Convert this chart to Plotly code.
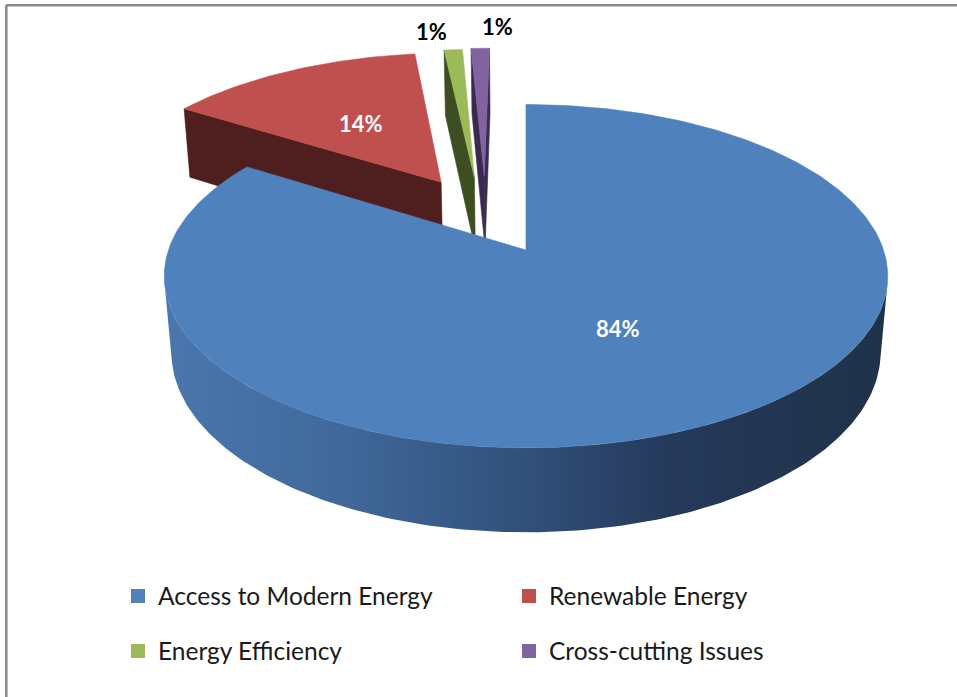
import numpy as np
import plotly.graph_objects as go

# ---------------- data ----------------
categories = ["Access to Modern Energy", "Renewable Energy", "Energy Efficiency", "Cross-cutting Issues"]
values = [84, 14, 1, 1]
labels = ["84%", "14%", "1%", "1%"]

# ---------------- style ----------------
top_colors = ["#4f81bd", "#c0504d", "#9bbb59", "#8064a2"]
wall_colors = ["#1f3249", "#4f1e1e", "#3d4e22", "#3a2b4d"]
label_colors = ["white", "white", "black", "black"]
explode = [0.0, 0.5, 0.49, 0.49]
explode_turn_deg = [0, 2, -13, -13]
label_inside = [True, True, False, False]
label_shift = [(0, 0), (0, 0), (-22, 18), (17, 22)]
blue_wall_scale = [[0, "#4a77ae"], [0.25, "#40689a"], [0.5, "#31507a"], [0.7, "#25395a"], [1, "#1f3249"]]

W, H_FIG = 957, 697
CX, CY = 526, 250          # screen position of pie centre
F, L = 2070.0, 5.79         # focal length / camera distance
SIN, COS = 0.469, 0.883     # camera elevation
DEPTH = 0.2445              # pie thickness
CAM = np.array([0.0, -L * COS, L * SIN])
FONT = "Lato, 'Open Sans', sans-serif"


def proj(x, y, z):
    x = np.asarray(x, float); y = np.asarray(y, float); z = np.asarray(z, float)
    d = y * COS + L - z * SIN
    return CX + F * x / d, CY - F * (y * SIN + z * COS) / d


fig = go.Figure()


def add_poly(xs, ys, color, gradient=None):
    kw = dict(x=list(xs) + [xs[0]], y=list(ys) + [ys[0]], mode="lines", fill="toself",
              hoverinfo="skip", showlegend=False)
    if gradient is not None:
        kw["fillgradient"] = dict(type="horizontal", colorscale=gradient)
        kw["line"] = dict(width=0, color=color)
        kw["fillcolor"] = color
    else:
        kw["fillcolor"] = color
        kw["line"] = dict(width=0.6, color=color)
    fig.add_trace(go.Scatter(**kw))


total = float(sum(values))
cum = np.concatenate([[0], np.cumsum(values)]) / total * 2 * np.pi
slices = []
for i in range(len(values)):
    t1, t2 = cum[i], cum[i + 1]
    mid = (t1 + t2) / 2
    ed = mid + np.radians(explode_turn_deg[i])
    ex, ey = explode[i] * np.sin(ed), explode[i] * np.cos(ed)
    slices.append((t1, t2, mid, ex, ey))

annotations = []
order = [3, 2, 1, 0]
for i in order:
    t1, t2, mid, ex, ey = slices[i]
    n = max(8, int(400 * (t2 - t1) / (2 * np.pi)))
    ts = np.linspace(t1, t2, n)
    ax_, ay_ = ex + np.sin(ts), ey + np.cos(ts)
    apex = np.array([ex, ey, 0.0])

    # radial faces
    for t, nrm in ((t1, np.array([-np.cos(t1), np.sin(t1), 0.0])),
                   (t2, np.array([np.cos(t2), -np.sin(t2), 0.0]))):
        if np.dot(nrm, CAM - apex) > 1e-6:
            ox, oy = ex + np.sin(t), ey + np.cos(t)
            px, py = proj([ex, ox, ox, ex], [ey, oy, oy, ey], [0, 0, -DEPTH, -DEPTH])
            add_poly(px, py, wall_colors[i])

    # outer curved wall (visible part)
    vis = np.sin(ts) * (CAM[0] - ax_) + np.cos(ts) * (CAM[1] - ay_) > 0
    idx = np.where(vis)[0]
    if len(idx) > 1:
        runs = np.split(idx, np.where(np.diff(idx) != 1)[0] + 1)
        for r in runs:
            if len(r) < 2:
                continue
            tx, ty = proj(ax_[r], ay_[r], np.zeros(len(r)))
            bx, by = proj(ax_[r][::-1], ay_[r][::-1], np.full(len(r), -DEPTH))
            add_poly(np.concatenate([tx, bx]), np.concatenate([ty, by]), wall_colors[i],
                     gradient=blue_wall_scale if i == 0 else None)

    # top face
    px, py = proj(np.concatenate([[ex], ax_]), np.concatenate([[ey], ay_]), np.zeros(n + 1))
    add_poly(px, py, top_colors[i])

    # label
    if label_inside[i]:
        lx, ly = proj(ex + 0.5 * np.sin(mid), ey + 0.5 * np.cos(mid), 0)
    else:
        lx, ly = proj(ex + np.sin(mid), ey + np.cos(mid), 0)
    dx, dy = label_shift[i]
    annotations.append(dict(x=float(lx) + dx, y=float(ly) - dy, text="<b>%s</b>" % labels[i],
                            showarrow=False, xref="x", yref="y",
                            font=dict(family=FONT, size=22, color=label_colors[i])))

# legend entries
for i, cat in enumerate(categories):
    fig.add_trace(go.Scatter(x=[None], y=[None], mode="markers", name=cat,
                             marker=dict(symbol="square", size=14, color=top_colors[i]),
                             legend="legend" if i < 2 else "legend2", hoverinfo="skip"))

leg_common = dict(orientation="h", entrywidth=346, entrywidthmode="pixels",
                  font=dict(family=FONT, size=24.5, color="#1a1a1a"),
                  bgcolor="rgba(0,0,0,0)", xanchor="left", yanchor="middle",
                  itemclick=False, itemdoubleclick=False, traceorder="normal")

fig.update_layout(
    width=W, height=H_FIG,
    margin=dict(l=0, r=0, t=0, b=0),
    paper_bgcolor="white", plot_bgcolor="white",
    xaxis=dict(range=[0, W], visible=False, fixedrange=True),
    yaxis=dict(range=[H_FIG, 0], visible=False, fixedrange=True),
    annotations=annotations,
    legend=dict(x=118 / W, y=1 - 596 / H_FIG, **leg_common),
    legend2=dict(x=118 / W, y=1 - 651 / H_FIG, **leg_common),
    shapes=[
        dict(type="line", xref="paper", yref="paper", x0=6.3 / W, x1=6.3 / W, y0=1 - 5 / H_FIG, y1=0,
             line=dict(color="#8a8a8a", width=2.5)),
        dict(type="line", xref="paper", yref="paper", x0=6.3 / W, x1=1, y0=1 - 5.3 / H_FIG, y1=1 - 5.3 / H_FIG,
             line=dict(color="#8a8a8a", width=2.5)),
    ],
    showlegend=True,
)

fig.write_html("out.html")
